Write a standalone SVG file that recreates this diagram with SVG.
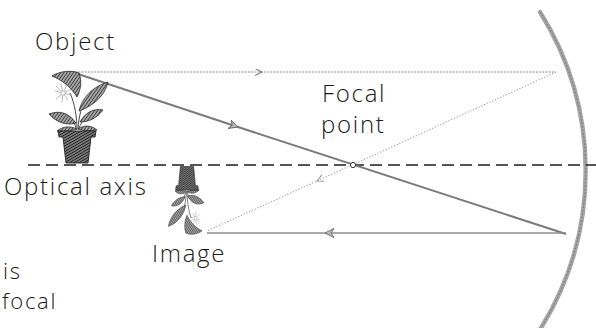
<svg xmlns="http://www.w3.org/2000/svg" xmlns:xlink="http://www.w3.org/1999/xlink" width="596" height="328" viewBox="0 0 596 328">
  <style>
    .lbl { font-family: "Open Sans", "Noto Sans", "Liberation Sans", sans-serif; font-size: 24px; font-weight: 300; letter-spacing: 1.7px; fill: #1a1a1a; }
    .cap { font-size: 22px; }
    .axis { stroke: #1e1e1e; stroke-width: 1.3; stroke-dasharray: 12 6; fill: none; }
    .ray-top { stroke: #8a8a8a; stroke-width: 1.1; stroke-dasharray: 2 1.2; fill: none; }
    .ray-refl { stroke: #a0a0a0; stroke-width: 1.1; stroke-dasharray: 1.2 1.8; fill: none; }
    .ray-main { stroke: #7a7a7a; stroke-width: 2; fill: none; }
    .ray-back { stroke: #8c8c8c; stroke-width: 1.6; fill: none; }
    .leaf { fill: url(#hatch); stroke: #2a2a2a; stroke-width: 0.8; }
    .pot { fill: url(#hatchDark); stroke: #222; stroke-width: 0.9; }
    .stem { fill: none; stroke: #333; stroke-width: 0.9; }
    .petal { stroke: #999; stroke-width: 0.7; fill: none; }
  </style>
  <defs>
    <pattern id="hatch" width="2.6" height="2.6" patternUnits="userSpaceOnUse" patternTransform="rotate(35)">
      <rect width="2.6" height="2.6" fill="#a8a8a8"/>
      <line x1="0" y1="0" x2="0" y2="2.6" stroke="#2a2a2a" stroke-width="1.5"/>
    </pattern>
    <pattern id="hatchDark" width="2.4" height="2.4" patternUnits="userSpaceOnUse" patternTransform="rotate(60)">
      <rect width="2.4" height="2.4" fill="#7a7a7a"/>
      <line x1="0" y1="0" x2="0" y2="2.4" stroke="#1a1a1a" stroke-width="1.6"/>
    </pattern>
    <marker id="chevGrey" markerWidth="9" markerHeight="9" refX="7" refY="3.5" orient="auto" markerUnits="userSpaceOnUse">
      <path d="M0,0 L7,3.5 L0,7" fill="none" stroke="#777" stroke-width="1.1"/>
    </marker>
    <marker id="chevLight" markerWidth="9" markerHeight="9" refX="7" refY="3.5" orient="auto" markerUnits="userSpaceOnUse">
      <path d="M0,0 L7,3.5 L0,7" fill="none" stroke="#999" stroke-width="1"/>
    </marker>
    <marker id="chevBold" markerWidth="12" markerHeight="12" refX="9" refY="4.5" orient="auto" markerUnits="userSpaceOnUse">
      <path d="M0,0 L9,4.5 L0,9 L3,4.5 Z" fill="#bbb" stroke="#666" stroke-width="0.9"/>
    </marker>

    <!-- potted plant, drawn upright -->
    <g id="plantShape">
      <!-- stems -->
      <path class="stem" d="M77,130 C77,118 75,104 70,93"/>
      <path class="stem" d="M78,129 C79,116 81,106 88,96"/>
      <path class="stem" d="M76,128 C74,120 70,116 64,114"/>
      <path class="stem" d="M79,128 C82,121 86,116 92,113"/>
      <!-- leaves -->
      <path class="leaf" d="M77,97 C71,87 62,80 52,76 C60,71 71,70 79,73 C82,81 81,89 77,97 Z"/>
      <path class="leaf" d="M79,111 C82,98 92,87 108,82 C105,96 93,106 79,111 Z"/>
      <path class="leaf" d="M76,123 C69,113 60,110 49,114 C56,122 66,126 76,123 Z"/>
      <path class="leaf" d="M80,122 C85,113 93,108 103,110 C97,118 89,122 80,122 Z"/>
      <path class="leaf" d="M57,131 C63,126 70,126 77,129 C70,131 63,132 57,131 Z"/>
      <path class="leaf" d="M78,129 C84,125 91,125 97,130 C90,131 84,131 78,129 Z"/>
      <!-- flower -->
      <g class="petal">
        <path d="M63,93 L55,91 M63,93 L56,86 M63,93 L61,84 M63,93 L67,85 M63,93 L71,89 M63,93 L72,95 M63,93 L68,100 M63,93 L62,102 M63,93 L56,99"/>
      </g>
      <circle cx="63" cy="93" r="2.2" fill="#fff" stroke="#999" stroke-width="0.6"/>
      <!-- pot -->
      <path class="pot" d="M58,131 L96,131 L95,137 L91,137 L88,163 L66,163 L63,137 L59,137 Z"/>
    </g>
  </defs>

  <rect width="596" height="328" fill="#fff"/>

  <!-- concave mirror -->
  <g id="mirror">
    <path d="M540,12 A299,299 0 0 1 541,328" fill="none" stroke="#a4a4a4" stroke-width="4.4" stroke-linecap="round"/>
    <path d="M540,12 A299,299 0 0 1 541,328" fill="none" stroke="#6a6a6a" stroke-width="1" stroke-dasharray="1.5 2"/>
  </g>

  <!-- optical axis -->
  <g id="axis">
    <line class="axis" x1="28" y1="165" x2="596" y2="165"/>
  </g>

  <!-- rays -->
  <g id="connectors">
    <path class="ray-top" d="M72,72 L262,72 L556,72" marker-mid="url(#chevGrey)"/>
    <path class="ray-refl" d="M556,72 L317,181 L207,231" marker-mid="url(#chevLight)"/>
    <path class="ray-main" d="M72,72 L238,127 L566,234" marker-mid="url(#chevBold)"/>
    <path class="ray-back" d="M566,233 L325,233 L207,233" marker-mid="url(#chevBold)"/>
  </g>

  <!-- focal point -->
  <g id="focal-point">
    <circle cx="353" cy="165" r="2.6" fill="#fff" stroke="#333" stroke-width="1"/>
    <text class="lbl" x="322" y="102">Focal</text>
    <text class="lbl" x="321" y="133">point</text>
  </g>

  <!-- object -->
  <g id="object">
    <use xlink:href="#plantShape" href="#plantShape"/>
    <text class="lbl" x="35" y="50">Object</text>
  </g>

  <!-- inverted, reduced image -->
  <g id="image">
    <use xlink:href="#plantShape" href="#plantShape" transform="translate(187,165) scale(-0.6,-0.74) translate(-77,-165)"/>
    <text class="lbl" x="152" y="262">Image</text>
  </g>

  <g id="axis-label">
    <text class="lbl" x="4" y="195">Optical axis</text>
  </g>

  <g id="caption">
    <text class="lbl cap" x="3" y="279">is</text>
    <text class="lbl cap" x="2" y="309">focal</text>
  </g>
</svg>
